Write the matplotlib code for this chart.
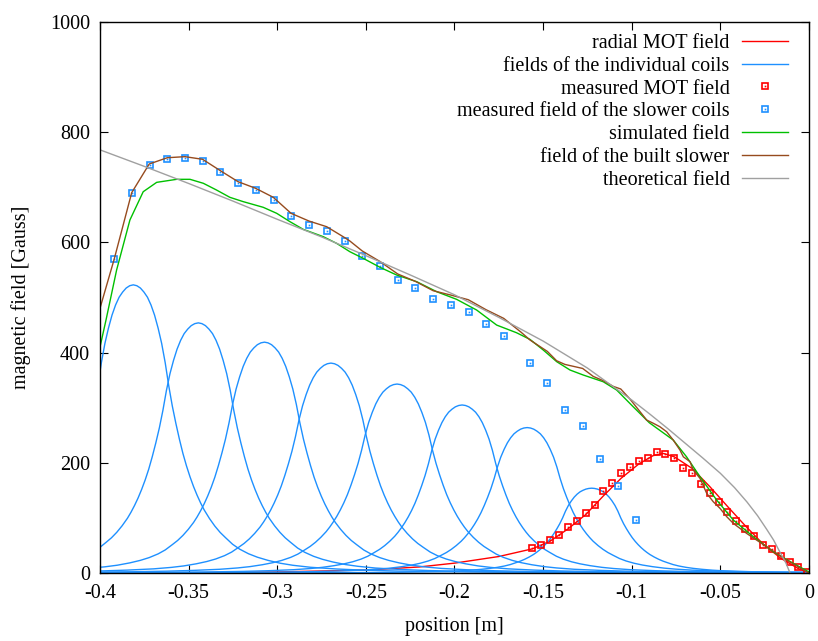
"""
Zeeman slower field profile: individual coils, measured, simulated and
theoretical fields (gnuplot-style recreation).
"""
import matplotlib
matplotlib.use("Agg")
import matplotlib.pyplot as plt
from matplotlib.legend_handler import HandlerTuple
import numpy as np

plt.rcParams["font.family"] = ["Liberation Serif", "DejaVu Serif"]
plt.rcParams["axes.unicode_minus"] = False

# --- data ------------------------------------------------------------------

# radial MOT field (line)
mot_line_x = [-0.40, -0.35, -0.30, -0.25, -0.22, -0.20, -0.175, -0.156, -0.146,
              -0.136, -0.126, -0.116, -0.106, -0.096, -0.088, -0.082, -0.076,
              -0.066, -0.056, -0.046, -0.036, -0.026, -0.016, -0.006, 0.0]
mot_line_y = [0.0, 0.5, 2.0, 5.5, 11.0, 18.0, 30.0, 44.0, 58.0,
              80.0, 106.0, 140.0, 172.0, 198.0, 213.0, 217.0, 211.0,
              190.0, 157.0, 121.0, 86.0, 53.0, 27.0, 8.0, 0.0]

# individual coils: centre, peak and relative width
coil_center = [-0.3812, -0.3445, -0.3072, -0.2697, -0.2324, -0.1957, -0.1590, -0.1226]
coil_peak = [523, 454, 419, 381, 343, 305, 264, 154]
coil_width = [1.0, 1.0, 1.0, 1.0, 1.0, 0.95, 0.93, 0.82]

# common coil profile (distance from centre [m], fraction of peak)
profile_dx = [0.000, 0.002, 0.004, 0.006, 0.008, 0.010, 0.012, 0.014, 0.016,
              0.018, 0.020, 0.022, 0.024, 0.026, 0.028, 0.030, 0.032, 0.034,
              0.036, 0.038, 0.040, 0.043, 0.046, 0.049, 0.052, 0.056, 0.060,
              0.065, 0.070, 0.076, 0.083, 0.090, 0.100, 0.115, 0.130, 0.150,
              0.180, 0.220, 0.270, 0.340, 0.420]
profile_rel = [1.000, 0.997, 0.989, 0.975, 0.957, 0.930, 0.895, 0.850, 0.797,
               0.730, 0.650, 0.580, 0.520, 0.465, 0.415, 0.372, 0.334, 0.300,
               0.270, 0.243, 0.219, 0.189, 0.163, 0.141, 0.123, 0.100, 0.083,
               0.067, 0.055, 0.044, 0.034, 0.027, 0.020, 0.014, 0.010, 0.0068,
               0.0043, 0.0026, 0.0015, 0.0009, 0.0005]

# measured MOT field (squares)
mot_meas_x = [-0.156, -0.151, -0.146, -0.141, -0.136, -0.131, -0.126, -0.121,
              -0.116, -0.111, -0.106, -0.101, -0.096, -0.091, -0.086, -0.081,
              -0.076, -0.071, -0.066, -0.061, -0.056, -0.051, -0.046, -0.041,
              -0.036, -0.031, -0.026, -0.021, -0.016, -0.011, -0.006, -0.001]
mot_meas_y = [44.8, 50.2, 59.9, 68.4, 84.0, 95.0, 108.3, 124.0,
              148.3, 162.8, 181.0, 191.8, 202.7, 208.1, 219.0, 216.5,
              208.1, 190.0, 181.0, 161.0, 144.6, 128.9, 110.7, 94.4,
              79.9, 66.5, 50.2, 43.0, 30.2, 19.4, 10.3, 1.2]

# measured field of the slower coils (squares)
slow_meas_x = [-0.392, -0.382, -0.372, -0.362, -0.352, -0.342, -0.332, -0.322,
               -0.312, -0.302, -0.292, -0.282, -0.272, -0.262, -0.252, -0.242,
               -0.232, -0.222, -0.212, -0.202, -0.192, -0.182, -0.172, -0.1576,
               -0.1477, -0.1377, -0.1277, -0.1177, -0.1078, -0.0978]
slow_meas_y = [569.3, 690.2, 740.5, 751.4, 753.7, 747.2, 727.2, 707.3,
               694.6, 677.0, 648.5, 631.0, 620.1, 603.1, 575.9, 556.6,
               532.3, 517.8, 497.3, 486.4, 473.1, 451.4, 429.6, 381.1,
               344.3, 295.8, 267.3, 206.4, 158.4, 96.7]

# simulated field
sim_x = [-0.400, -0.3966, -0.3906, -0.3831, -0.3756, -0.368, -0.3567, -0.3492,
         -0.3417, -0.3342, -0.3267, -0.3192, -0.3079, -0.3003, -0.2928, -0.2853,
         -0.274, -0.2665, -0.259, -0.2515, -0.242, -0.2326, -0.2213, -0.210,
         -0.1988, -0.1875, -0.1762, -0.165, -0.1574, -0.1499, -0.1423, -0.1348,
         -0.1273, -0.1161, -0.1085, -0.0992, -0.0901, -0.0766, -0.0691, -0.0615,
         -0.0521, -0.0427, -0.0314, -0.0202, -0.0089, 0.0]
sim_y = [410.0, 459.0, 550.0, 640.7, 692.0, 709.0, 714.5, 714.5,
         707.3, 695.0, 681.8, 674.0, 663.7, 652.8, 637.6, 623.7,
         610.4, 598.3, 583.1, 571.1, 554.8, 540.8, 528.7, 510.5,
         496.7, 477.3, 450.0, 436.1, 424.0, 404.7, 383.5, 368.4,
         359.3, 347.2, 332.1, 301.8, 272.8, 241.4, 211.0, 174.8,
         132.5, 96.2, 65.9, 38.7, 17.6, 2.0]

# field of the built slower
built_x = [-0.400, -0.392, -0.3821, -0.3722, -0.362, -0.352, -0.3421, -0.3321,
           -0.3221, -0.3122, -0.3022, -0.2922, -0.2821, -0.2721, -0.2622, -0.259,
           -0.252, -0.242, -0.232, -0.222, -0.212, -0.2021, -0.1922, -0.1822,
           -0.1722, -0.1623, -0.1574, -0.1476, -0.1424, -0.1377, -0.1277, -0.1217,
           -0.116, -0.1104, -0.1062, -0.101, -0.0916, -0.0878, -0.0841, -0.0803,
           -0.0766, -0.0728, -0.0709, -0.0671, -0.0653, -0.0615, -0.0577, -0.054,
           -0.0502, -0.0464, -0.0427, -0.0352, -0.0239, -0.0126, 0.0]
built_y = [480.3, 569.3, 690.2, 742.3, 753.7, 755.6, 750.8, 730.2,
           710.2, 698.2, 681.8, 652.8, 638.8, 628.5, 609.2, 602.5,
           584.4, 565.3, 542.7, 529.2, 512.3, 504.5, 496.0, 477.9,
           462.1, 436.7, 422.9, 402.2, 385.3, 378.6, 371.3, 356.8,
           349.0, 338.7, 334.0, 315.8, 277.7, 271.7, 265.5, 256.4,
           241.4, 223.2, 211.0, 202.0, 187.0, 171.9, 144.6, 129.4,
           117.4, 102.2, 90.2, 72.0, 47.7, 23.6, 0.0]

# theoretical field
theo_x = [-0.400, -0.375, -0.350, -0.325, -0.300, -0.275, -0.250, -0.225,
          -0.200, -0.175, -0.150, -0.125, -0.100, -0.090, -0.080, -0.070,
          -0.060, -0.050, -0.042, -0.035, -0.029, -0.024, -0.020, -0.0164,
          -0.013, -0.0107]
theo_y = [768.0, 738.0, 707.0, 675.0, 642.0, 610.0, 576.0, 541.0,
          505.0, 464.0, 421.0, 372.0, 314.0, 289.0, 263.0, 236.0,
          209.0, 181.0, 155.0, 129.0, 104.0, 80.0, 60.0, 38.0,
          18.0, 0.0]

# --- styles ----------------------------------------------------------------
RED = "#ff0000"
BLUE = "#1e90ff"
GREEN = "#00c000"
BROWN = "#964b1e"
GRAY = "#a0a0a0"
LW = 1.0
FS = 14.5


def main() -> None:
    fig = plt.figure(figsize=(8.18, 6.41), dpi=100)
    ax = fig.add_axes([0.1222, 0.106, 0.8668, 0.8597])

    h_mot, = ax.plot(mot_line_x, mot_line_y, color=RED, lw=LW)

    dx = np.asarray(profile_dx)
    rel = np.asarray(profile_rel)
    h_coil = None
    for c, p, w in zip(coil_center, coil_peak, coil_width):
        xs = np.concatenate([c - dx[::-1] * w, c + dx[1:] * w])
        ys = p * np.concatenate([rel[::-1], rel[1:]])
        h_coil, = ax.plot(xs, ys, color=BLUE, lw=LW)

    sq = dict(ls="none", marker="s", ms=5.0, mfc="none", mew=1.2)
    dot = dict(ls="none", marker="s", ms=1.2, mew=0)
    h_ms, = ax.plot(mot_meas_x, mot_meas_y, color=RED, mec=RED, **sq)
    h_md, = ax.plot(mot_meas_x, mot_meas_y, color=RED, **dot)
    h_ss, = ax.plot(slow_meas_x, slow_meas_y, color=BLUE, mec=BLUE, **sq)
    h_sd, = ax.plot(slow_meas_x, slow_meas_y, color=BLUE, **dot)

    h_sim, = ax.plot(sim_x, sim_y, color=GREEN, lw=LW)
    h_built, = ax.plot(built_x, built_y, color=BROWN, lw=LW)
    h_theo, = ax.plot(theo_x, theo_y, color=GRAY, lw=LW)

    ax.set_xlim(-0.4, 0.0)
    ax.set_ylim(0, 1000)
    ax.set_xticks(np.arange(-0.4, 0.001, 0.05))
    ax.set_xticklabels(["-0.4", "-0.35", "-0.3", "-0.25", "-0.2",
                        "-0.15", "-0.1", "-0.05", "0"])
    ax.set_yticks(range(0, 1001, 200))
    ax.tick_params(direction="in", length=6, width=0.8, top=True, right=True,
                   labelsize=FS, pad=7)
    ax.tick_params(axis="x", pad=8)
    for sp in ax.spines.values():
        sp.set_linewidth(1.0)

    ax.set_xlabel("position [m]", fontsize=FS, labelpad=10)
    ax.set_ylabel("magnetic field [Gauss]", fontsize=FS, labelpad=14)

    handles = [h_mot, h_coil, (h_ms, h_md), (h_ss, h_sd), h_sim, h_built, h_theo]
    labels = ["radial MOT field", "fields of the individual coils",
              "measured MOT field", "measured field of the slower coils",
              "simulated field", "field of the built slower", "theoretical field"]
    ax.legend(handles, labels, loc="upper right", bbox_to_anchor=(0.9704, 0.979),
              frameon=False, markerfirst=False, fontsize=FS, handlelength=2.3,
              handletextpad=0.6, labelspacing=0.19, borderaxespad=0.0,
              borderpad=0.0, numpoints=1,
              handler_map={tuple: HandlerTuple(ndivide=1)})

    fig.savefig("out.png", dpi=100)
    plt.close(fig)


if __name__ == "__main__":
    main()
